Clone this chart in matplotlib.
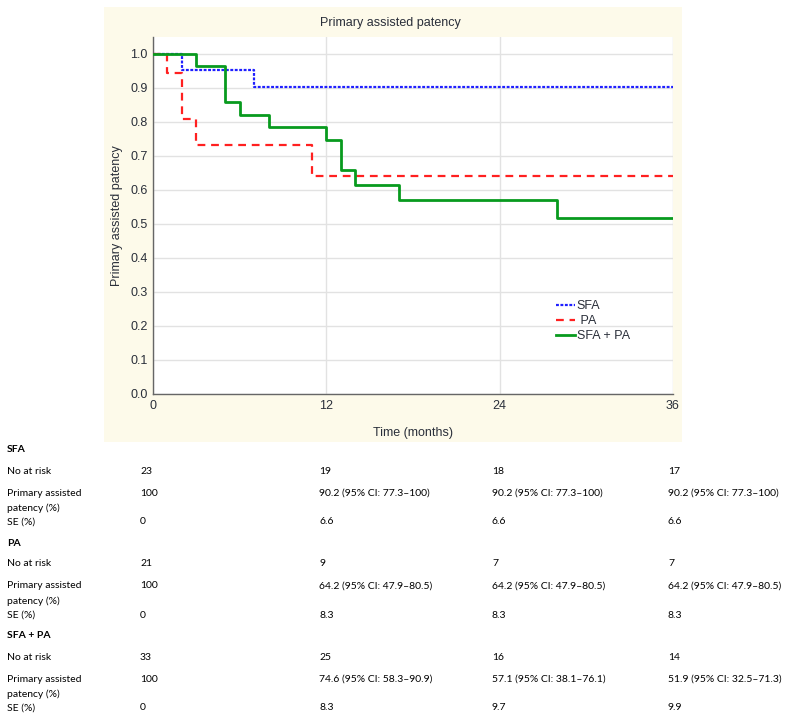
import matplotlib
matplotlib.use("Agg")
import matplotlib.pyplot as plt
from matplotlib.patches import Rectangle

# ---- data ----
sfa_t = [0, 2, 7, 36]
sfa_s = [1.0, 0.953, 0.902, 0.902]
pa_t = [0, 1, 2, 3, 11, 36]
pa_s = [1.0, 0.943, 0.809, 0.732, 0.642, 0.642]
comb_t = [0, 3, 5, 6, 8, 12, 13, 14, 17, 28, 36]
comb_s = [1.0, 0.965, 0.859, 0.820, 0.784, 0.748, 0.659, 0.614, 0.571, 0.519, 0.519]

x_ticks = [0, 12, 24, 36]
y_ticks = [0.0, 0.1, 0.2, 0.3, 0.4, 0.5, 0.6, 0.7, 0.8, 0.9, 1.0]

groups = ["SFA", "PA", "SFA + PA"]
at_risk = [["23", "19", "18", "17"],
           ["21", "9", "7", "7"],
           ["33", "25", "16", "14"]]
patency = [["100", "90.2 (95% CI: 77.3\u2013100)", "90.2 (95% CI: 77.3\u2013100)", "90.2 (95% CI: 77.3\u2013100)"],
           ["100", "64.2 (95% CI: 47.9\u201380.5)", "64.2 (95% CI: 47.9\u201380.5)", "64.2 (95% CI: 47.9\u201380.5)"],
           ["100", "74.6 (95% CI: 58.3\u201390.9)", "57.1 (95% CI: 38.1\u201376.1)", "51.9 (95% CI: 32.5\u201371.3)"]]
se = [["0", "6.6", "6.6", "6.6"],
      ["0", "8.3", "8.3", "8.3"],
      ["0", "8.3", "9.7", "9.9"]]

W, H = 785, 716
fig = plt.figure(figsize=(W / 100, H / 100), dpi=100)

def fx(px):
    return px / W

def fy(py):
    return 1 - py / H

# beige panel
fig.patches.append(Rectangle((fx(104), fy(442)), (682 - 104) / W, (442 - 7) / H,
                             transform=fig.transFigure, facecolor="#FDFAEA",
                             edgecolor="none", zorder=-10))

ax = fig.add_axes([fx(153), fy(394), (673 - 153) / W, (394 - 37) / H])
ax.set_zorder(1)
ax.set_facecolor("white")
ax.set_xlim(0, 36)
ax.set_ylim(0, 1.05)

chart_font = "Liberation Sans"
fs = 9
tcol = "#2A2F3A"
ax.step(sfa_t, sfa_s, where="post", color="#1F1FFF", lw=1.6,
        dashes=(1.3, 0.7), label="SFA", zorder=3)
ax.step(pa_t, pa_s, where="post", color="#FF2020", lw=1.6,
        dashes=(3.5, 2.6), label=" PA", zorder=3)
ax.step(comb_t, comb_s, where="post", color="#089A1E", lw=2.0,
        label="SFA + PA", zorder=4)

ax.set_xticks(x_ticks)
ax.set_yticks(y_ticks)
ax.set_yticklabels([f"{v:.1f}" for v in y_ticks], fontfamily=chart_font, fontsize=fs, color=tcol)
ax.set_xticklabels([str(v) for v in x_ticks], fontfamily=chart_font, fontsize=fs, color=tcol)
ax.grid(True, color="#E2E2E2", lw=1.0)
ax.set_axisbelow(True)
for s in ["top", "right"]:
    ax.spines[s].set_visible(False)
for s in ["left", "bottom"]:
    ax.spines[s].set_color("#666666")
    ax.spines[s].set_linewidth(1.0)
ax.tick_params(axis="both", length=0, pad=4)

ax.set_xlabel("Time (months)", fontfamily=chart_font, fontsize=fs, color=tcol, labelpad=11)
ax.set_ylabel("Primary assisted patency", fontfamily=chart_font, fontsize=fs, color=tcol, labelpad=5)
fig.text(fx(390), fy(23), "Primary assisted patency", ha="center", va="center",
         fontfamily=chart_font, fontsize=fs, color=tcol)

leg = ax.legend(loc="upper left", bbox_to_anchor=((556 - 153) / 520, 1 - (300 - 37) / 357),
                frameon=False, handlelength=1.5, handletextpad=0.15, labelspacing=0.25,
                borderaxespad=0, borderpad=0,
                prop={"family": chart_font, "size": fs})
for t in leg.get_texts():
    t.set_color(tcol)

# ---- table ----
tfont = "Lato"
tsize = 7.5
col_x = [140, 319, 492, 668]
group_y = [450, 543, 636]
for g in range(3):
    y0 = group_y[g]
    fig.text(fx(7), fy(y0), groups[g], ha="left", va="center", fontfamily=tfont,
             fontsize=tsize, fontweight="bold", color="black")
    fig.text(fx(7), fy(y0 + 21), "No at risk", ha="left", va="center",
             fontfamily=tfont, fontsize=tsize)
    fig.text(fx(7), fy(y0 + 43), "Primary assisted", ha="left", va="center",
             fontfamily=tfont, fontsize=tsize)
    fig.text(fx(7), fy(y0 + 58), "patency (%)", ha="left", va="center",
             fontfamily=tfont, fontsize=tsize)
    fig.text(fx(7), fy(y0 + 72), "SE (%)", ha="left", va="center",
             fontfamily=tfont, fontsize=tsize)
    for c in range(4):
        fig.text(fx(col_x[c]), fy(y0 + 21), at_risk[g][c], ha="left", va="center",
                 fontfamily=tfont, fontsize=tsize)
        fig.text(fx(col_x[c]), fy(y0 + 43), patency[g][c], ha="left", va="center",
                 fontfamily=tfont, fontsize=tsize)
        fig.text(fx(col_x[c]), fy(y0 + 72), se[g][c], ha="left", va="center",
                 fontfamily=tfont, fontsize=tsize)

fig.savefig("out.png", dpi=100)
